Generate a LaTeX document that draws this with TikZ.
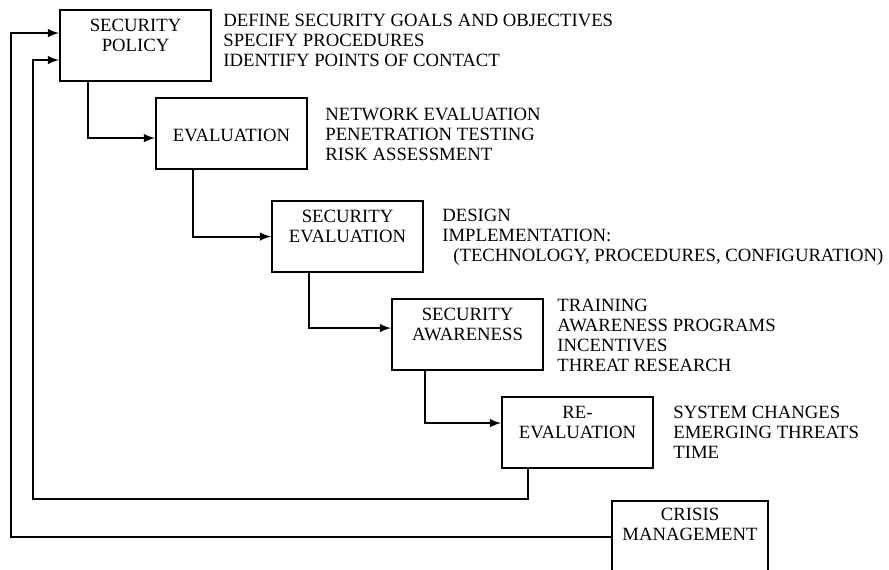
\documentclass[tikz,border=0pt]{standalone}
\usepackage{fontspec}
\setmainfont{Liberation Serif}
\usetikzlibrary{
    arrows,
    calc,
    positioning
}

\begin{document}
\begin{tikzpicture}[x=0.02cm, y=-0.02cm,
    every node/.style={font=\fontsize{10.65}{11.3}\selectfont, inner sep=0pt},
    blk/.style={draw, line width=1.2pt, anchor=north west, minimum width=3.02cm, minimum height=1.42cm},
    ttl/.style={align=center, anchor=north},
    notes/.style={align=left, anchor=north west},
    arr/.style={line width=1.2pt, -latex}]
    \clip (0,0) rectangle (889,569);

    % boxes
    \node[blk] (pol) at (59,9) {};
    \node[blk] (eval) at (155,97) {};
    \node[blk] (seceval) at (271,200) {};
    \node[blk] (aware) at (391,298) {};
    \node[blk] (reeval) at (501,396) {};
    \node[blk, minimum width=3.12cm] (crisis) at (611,500) {};

    % titles
    \node[ttl] (polt) at ($(pol.north)+(0,10)$) {SECURITY\\POLICY};
    \node[ttl] (evalt) at ($(eval.north)+(0,32)$) {EVALUATION};
    \node[ttl] (secevalt) at ($(seceval.north)+(0,10)$) {SECURITY\\EVALUATION};
    \node[ttl] (awaret) at ($(aware.north)+(0,10)$) {SECURITY\\AWARENESS};
    \node[ttl] (reevalt) at ($(reeval.north)+(0,10)$) {RE-\\EVALUATION};
    \node[ttl] (crisist) at ($(crisis.north)+(0,8)$) {CRISIS\\MANAGEMENT};

    % notes
    \node[notes] (poln) at (223,14) {DEFINE SECURITY GOALS AND OBJECTIVES\\SPECIFY PROCEDURES\\IDENTIFY POINTS OF CONTACT};
    \node[notes] (evaln) at (325,108) {NETWORK EVALUATION\\PENETRATION TESTING\\RISK ASSESSMENT};
    \node[notes] (secevaln) at (442,209) {DESIGN\\IMPLEMENTATION:\\\hspace*{0.22cm}(TECHNOLOGY, PROCEDURES, CONFIGURATION)};
    \node[notes] (awaren) at (557,299) {TRAINING\\AWARENESS PROGRAMS\\INCENTIVES\\THREAT RESEARCH};
    \node[notes] (reevaln) at (673,406) {SYSTEM CHANGES\\EMERGING THREATS\\TIME};

    % flow
    \draw[arr] ($(pol.south west)+(29,0)$) |- ($(eval.west)+(0,4.5)$);
    \draw[arr] ($(eval.south west)+(38,0)$) |- (seceval.west);
    \draw[arr] ($(seceval.south west)+(38,0)$) |- ($(aware.west)+(0,-6.5)$);
    \draw[arr] ($(aware.south west)+(34,0)$) |- ($(reeval.west)+(0,-9.5)$);
    \draw[arr] ($(reeval.south west)+(27,0)$) -- ++(0,30) -| ($(pol.west)+(-26,14.5)$) -- ($(pol.west)+(0,14.5)$);
    \draw[arr] (crisis.west) -| ($(pol.west)+(-48,-12.5)$) -- ($(pol.west)+(0,-12.5)$);
\end{tikzpicture}
\end{document}
